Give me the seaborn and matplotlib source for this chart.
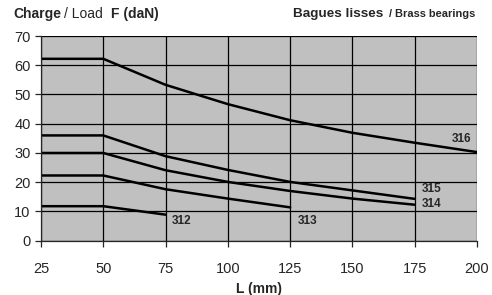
import pandas as pd
import matplotlib.pyplot as plt
import seaborn as sns

# Load curves (L in mm, F in daN)
L = [25, 50, 75, 100, 125, 150, 175, 200]
f312 = [11.8, 11.8, 8.9]
f313 = [22.3, 22.3, 17.6, 14.4, 11.4]
f314 = [30, 30, 24.1, 20.1, 17.0, 14.4, 12.3]
f315 = [36, 36, 28.9, 24.2, 20.1, 17.2, 14.3]
f316 = [62.2, 62.2, 53.3, 46.7, 41.2, 36.9, 33.5, 30.3]
series = {"312": f312, "313": f313, "314": f314, "315": f315, "316": f316}

rows = []
for name, vals in series.items():
    for x, y in zip(L, vals):
        rows.append({"L": x, "F": y, "ref": name})
df = pd.DataFrame(rows)

sns.set_style("ticks")
plt.rcParams["font.family"] = ["Liberation Sans", "DejaVu Sans"]

fig = plt.figure(figsize=(4.92, 2.95), dpi=100)
ax = fig.add_axes([41 / 492, 1 - 240.7 / 295, 436 / 492, (240.7 - 36) / 295])
ax.set_facecolor("#c0c0c0")

sns.lineplot(data=df, x="L", y="F", hue="ref", palette=["black"] * 5,
             linewidth=1.8, legend=False, ax=ax)

ax.set_xlim(25, 200)
ax.set_ylim(0, 70)
ax.set_xticks(L)
ax.set_yticks(range(0, 71, 10))
ax.grid(True, color="black", linewidth=0.9)
ax.set_axisbelow(True)
for s in ax.spines.values():
    s.set_linewidth(0.9)
ax.spines["top"].set_visible(False)
ax.spines["right"].set_visible(False)
ax.tick_params(labelsize=10.5, length=4, width=0.9, direction="out")
ax.tick_params(axis="x", pad=11)
ax.set_xlabel("L (mm)", fontsize=10, fontweight="bold", labelpad=5)
ax.set_ylabel("")

# series labels
lab = dict(fontsize=8.5, fontweight="bold", va="center")
ax.text(77.6, 6.7, "312", **lab)
ax.text(128.2, 6.7, "313", **lab)
ax.text(177.8, 12.5, "314", **lab)
ax.text(177.8, 17.6, "315", **lab)
ax.text(190, 34.7, "316", **lab)

# headers
y_h = 1 - 14 / 295
fig.text(13 / 492, y_h, "Charge", fontsize=10, fontweight="bold", va="center")
fig.text(64 / 492, y_h, "/ Load", fontsize=10, va="center")
fig.text(111 / 492, y_h, "F (daN)", fontsize=10, fontweight="bold", va="center")
fig.text(293 / 492, y_h, "Bagues lisses", fontsize=9.7, fontweight="bold", va="center")
fig.text(389 / 492, y_h, "/ Brass bearings", fontsize=7.9, fontweight="bold", va="center")

fig.savefig("out.png", dpi=100)
